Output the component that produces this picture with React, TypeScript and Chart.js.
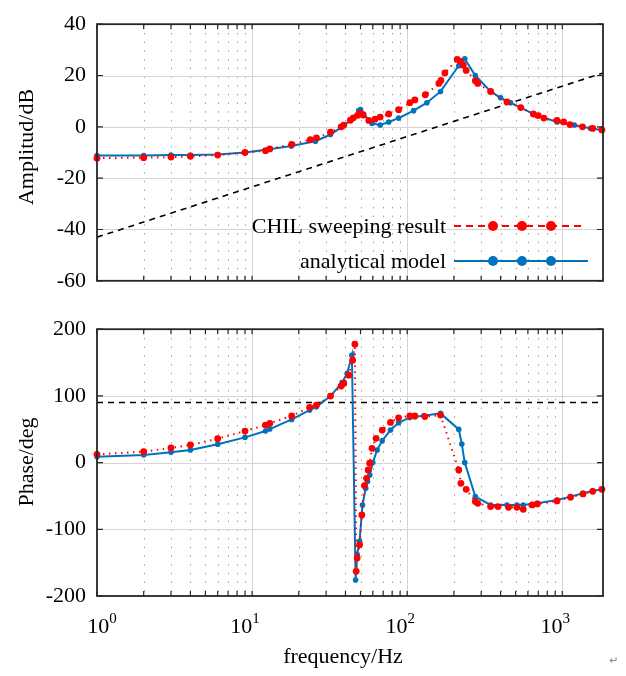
"use client"

import { useEffect, useRef } from "react"
import { Chart, registerables, type ChartConfiguration, type Plugin } from "chart.js"

Chart.register(...registerables)

const SERIF = "'Liberation Serif', 'Times New Roman', serif"
const RED = "#ff0000"
const BLUE = "#0072bd"

const freqMin = 1
const freqMax = 1830

// amplitude: CHIL sweeping result
const ampChilFreq = [1, 2, 3, 4, 6, 9, 12.2, 13, 18, 23.7, 26, 32, 37.5, 39, 43, 45, 48, 50, 52, 56.5, 62, 67, 76, 88, 104, 112, 131, 160, 165, 175, 210, 220, 230, 240, 275, 285, 345, 440, 540, 650, 700, 760, 925, 1020, 1120, 1350, 1570, 1800]
const ampChil = [-12.2, -12, -11.8, -11.5, -11, -10, -9.3, -8.6, -6.8, -5, -4.3, -2.1, 0, 0.7, 2.6, 3.5, 4.5, 5.3, 4.6, 2.5, 3, 3.8, 5, 6.7, 9.4, 10.5, 12.5, 16.9, 18.1, 21, 26.3, 25.5, 24, 22, 18, 16.9, 13.8, 9.7, 7.5, 5, 4.4, 3.4, 2.5, 1.9, 0.9, 0, -0.6, -1.2]

// amplitude: analytical model
const ampModelFreq = [1, 2, 3, 4, 6, 9, 12.9, 17.9, 25.6, 32, 38, 43, 48.7, 50, 52.3, 59.3, 67, 76, 88, 110, 134, 164, 215, 235, 275, 345, 400, 464, 538, 686, 925, 1195, 1520, 1800]
const ampModel = [-11.2, -11.2, -11, -11, -10.8, -10, -8.7, -7.5, -5.6, -3, 0, 2.5, 6.3, 6.7, 5, 1.3, 0.7, 1.9, 3.4, 6.3, 9.4, 13.8, 23.8, 26.5, 20, 13.8, 11.3, 9.4, 7.5, 4.4, 1.9, 0.7, -0.6, -1.2]

// amplitude: dashed reference line
const ampRefFreq = [1, 1830]
const ampRef = [-43, 21]

// phase: CHIL sweeping result
const phaseChilFreq = [1, 2, 3, 4, 6, 9, 12.2, 13, 18, 23.5, 26, 32, 37.5, 39, 42, 44.5, 46, 46.9, 47.6, 49.3, 51, 53, 54.7, 56, 57.3, 59.3, 63, 69, 78, 88, 104, 112, 130, 164, 215, 222, 240, 275, 285, 345, 385, 450, 510, 560, 640, 690, 925, 1130, 1360, 1570, 1800]
const phaseChil = [12.4, 16.4, 22, 26.4, 35.8, 47.3, 56.3, 58.8, 70, 82.8, 86.2, 99.7, 114.7, 118.7, 131, 153.6, 177.5, -163, -143, -123, -78.5, -34.5, -23.6, -11, -1, 21.4, 36.4, 48.8, 60.3, 67.2, 70, 70, 69, 71.3, -11, -31, -40, -58.5, -61, -66, -66, -67, -67, -70, -63.5, -62, -57.5, -52, -47, -43, -40]

// phase: analytical model
const phaseModelFreq = [1, 2, 3, 4, 6, 9, 12.2, 13, 18, 23.5, 26, 32, 38, 41, 44, 46.5, 47.6, 49.3, 51.5, 54, 55.5, 57.4, 60, 64, 69, 78, 88, 104, 112, 128, 164, 215, 225, 235, 275, 345, 440, 510, 560, 690, 925, 1130, 1360, 1570, 1800]
const phaseModel = [8.8, 11.4, 15.4, 19, 27.4, 37.8, 47.3, 50.3, 64.8, 78.7, 83.7, 99.7, 120, 133.7, 161, -176, -138, -118, -63.5, -38.5, -28.5, -18.6, 0, 19, 32.8, 48.8, 59.7, 67.8, 68.8, 70.2, 73.8, 49.8, 27.8, 0, -51, -63.5, -63.5, -63.5, -63.5, -61, -56, -51, -46, -42.5, -40]

// phase: dashed reference line
const phaseRefFreq = [1, 1830]
const phaseRef = [90, 90]

const legendLabels = ["CHIL sweeping result", "analytical model"]
const decadeExponents = ["0", "1", "2", "3"]

const toPoints = (xs: number[], ys: number[]) => xs.map((x, i) => ({ x, y: ys[i] }))

function logGridValues(min: number, max: number) {
  const out: { v: number; major: boolean }[] = []
  for (let d = Math.floor(Math.log10(min)); Math.pow(10, d) <= max; d++) {
    for (let m = 1; m <= 9; m++) {
      const v = m * Math.pow(10, d)
      if (v >= min && v < max) out.push({ v, major: m === 1 })
    }
  }
  return out
}

// MATLAB-like grid, inward ticks and box
const framePlugin: Plugin<"line"> = {
  id: "frame",
  beforeDatasetsDraw(chart) {
    const { ctx, chartArea: a } = chart
    const xs = chart.scales.x
    const ys = chart.scales.y
    ctx.save()
    ctx.lineWidth = 1
    for (const g of logGridValues(freqMin, freqMax)) {
      if (g.v === freqMin) continue
      const px = Math.round(xs.getPixelForValue(g.v)) + 0.5
      ctx.strokeStyle = g.major ? "#d4d4d4" : "#a0a0a0"
      ctx.setLineDash(g.major ? [] : [1.5, 7.2])
      ctx.beginPath()
      ctx.moveTo(px, a.top)
      ctx.lineTo(px, a.bottom)
      ctx.stroke()
    }
    ctx.setLineDash([])
    ctx.strokeStyle = "#d4d4d4"
    for (const t of ys.ticks) {
      const py = Math.round(ys.getPixelForValue(t.value)) + 0.5
      if (py < a.top + 2 || py > a.bottom - 2) continue
      ctx.beginPath()
      ctx.moveTo(a.left, py)
      ctx.lineTo(a.right, py)
      ctx.stroke()
    }
    ctx.restore()
  },
  afterDatasetsDraw(chart) {
    const { ctx, chartArea: a } = chart
    const xs = chart.scales.x
    const ys = chart.scales.y
    ctx.save()
    ctx.strokeStyle = "#262626"
    ctx.lineWidth = 1.2
    for (const g of logGridValues(freqMin, freqMax)) {
      const px = xs.getPixelForValue(g.v)
      ctx.beginPath()
      ctx.moveTo(px, a.bottom)
      ctx.lineTo(px, a.bottom - 5)
      ctx.moveTo(px, a.top)
      ctx.lineTo(px, a.top + 5)
      ctx.stroke()
    }
    for (const t of ys.ticks) {
      const py = ys.getPixelForValue(t.value)
      ctx.beginPath()
      ctx.moveTo(a.left, py)
      ctx.lineTo(a.left + 6, py)
      ctx.moveTo(a.right, py)
      ctx.lineTo(a.right - 6, py)
      ctx.stroke()
    }
    ctx.lineWidth = 1.8
    ctx.strokeRect(a.left, a.top, a.right - a.left, a.bottom - a.top)
    ctx.restore()
  },
}

const legendPlugin: Plugin<"line"> = {
  id: "bodeLegend",
  afterDraw(chart) {
    const { ctx } = chart
    const rows = [
      { label: legendLabels[0], color: RED, dash: [7, 5], y: 226, end: 583 },
      { label: legendLabels[1], color: BLUE, dash: [], y: 261, end: 588 },
    ]
    ctx.save()
    ctx.font = `22px ${SERIF}`
    ctx.textAlign = "right"
    ctx.textBaseline = "middle"
    for (const r of rows) {
      ctx.fillStyle = "#000"
      ctx.fillText(r.label, 446, r.y + 1)
      ctx.strokeStyle = r.color
      ctx.lineWidth = 2
      ctx.setLineDash(r.dash)
      ctx.beginPath()
      ctx.moveTo(454, r.y)
      ctx.lineTo(r.end, r.y)
      ctx.stroke()
      ctx.setLineDash([])
      ctx.fillStyle = r.color
      for (const mx of [493, 522, 551]) {
        ctx.beginPath()
        ctx.arc(mx, r.y, 5, 0, Math.PI * 2)
        ctx.fill()
      }
    }
    ctx.restore()
  },
}

const freqLabelPlugin: Plugin<"line"> = {
  id: "freqLabels",
  afterDraw(chart) {
    const { ctx, chartArea: a } = chart
    const xs = chart.scales.x
    ctx.save()
    ctx.fillStyle = "#000"
    ctx.textBaseline = "alphabetic"
    decadeExponents.forEach((e, i) => {
      const px = xs.getPixelForValue(Math.pow(10, i))
      ctx.font = `22px ${SERIF}`
      const wb = ctx.measureText("10").width
      ctx.font = `15px ${SERIF}`
      const we = ctx.measureText(e).width
      const cx = i === 0 ? px + 5 : px - 7
      const x0 = cx - (wb + we) / 2
      ctx.font = `22px ${SERIF}`
      ctx.textAlign = "left"
      ctx.fillText("10", x0, a.bottom + 37)
      ctx.font = `15px ${SERIF}`
      ctx.fillText(e, x0 + wb, a.bottom + 27)
    })
    ctx.font = `22px ${SERIF}`
    ctx.textAlign = "center"
    ctx.fillText("frequency/Hz", 343, a.bottom + 67)
    ctx.font = `11px 'DejaVu Sans'`
    ctx.fillStyle = "#888"
    ctx.fillText("↵", 614, a.bottom + 68)
    ctx.restore()
  },
}

interface BodePanelProps {
  top: number
  height: number
  padTop: number
  xAxisHeight: number
  yMin: number
  yMax: number
  yStep: number
  title: string
  titleY: number
  chil: { x: number; y: number }[]
  model: { x: number; y: number }[]
  ref: { x: number; y: number }[]
  extra: Plugin<"line">
}

function BodePanel(p: BodePanelProps) {
  const canvasRef = useRef<HTMLCanvasElement>(null)

  useEffect(() => {
    if (!canvasRef.current) return
    const titlePlugin: Plugin<"line"> = {
      id: "yTitle",
      afterDraw(chart) {
        const { ctx } = chart
        ctx.save()
        ctx.translate(27, p.titleY)
        ctx.rotate(-Math.PI / 2)
        ctx.font = `22px ${SERIF}`
        ctx.fillStyle = "#000"
        ctx.textAlign = "center"
        ctx.textBaseline = "middle"
        ctx.fillText(p.title, 0, 0)
        ctx.restore()
      },
    }

    const config: ChartConfiguration<"line"> = {
      type: "line",
      data: {
        datasets: [
          {
            label: legendLabels[0],
            data: p.chil,
            borderColor: RED,
            backgroundColor: RED,
            borderWidth: 2,
            borderDash: [1.5, 4.5],
            pointRadius: 3.4,
            pointBorderWidth: 0,
            pointBackgroundColor: RED,
            order: 0,
            clip: 8,
          },
          {
            label: legendLabels[1],
            data: p.model,
            borderColor: BLUE,
            backgroundColor: BLUE,
            borderWidth: 2,
            pointRadius: 2.8,
            pointBorderWidth: 0,
            pointBackgroundColor: BLUE,
            order: 1,
            clip: 8,
          },
          {
            label: "ref",
            data: p.ref,
            borderColor: "#000",
            borderWidth: 1.6,
            borderDash: [6, 5],
            pointRadius: 0,
            order: 2,
          },
        ],
      },
      options: {
        animation: false,
        responsive: true,
        maintainAspectRatio: false,
        parsing: false,
        layout: { padding: { top: p.padTop, right: 23, left: 0, bottom: 0 } },
        plugins: { legend: { display: false }, tooltip: { enabled: false } },
        scales: {
          x: {
            type: "logarithmic",
            min: freqMin,
            max: freqMax,
            grid: { display: false },
            border: { display: false },
            ticks: { display: false },
            afterFit: (s) => {
              s.height = p.xAxisHeight
            },
          },
          y: {
            min: p.yMin,
            max: p.yMax,
            grid: { display: false, drawTicks: false },
            border: { display: false },
            ticks: {
              stepSize: p.yStep,
              color: "#000",
              padding: 11,
              font: { family: SERIF, size: 22 },
            },
            afterFit: (s) => {
              s.width = 97
            },
          },
        },
      },
      plugins: [framePlugin, titlePlugin, p.extra],
    }

    const chart = new Chart(canvasRef.current, config)
    return () => chart.destroy()
  }, [p])

  return (
    <div style={{ position: "absolute", left: 0, top: p.top, width: 626, height: p.height }}>
      <canvas ref={canvasRef} />
    </div>
  )
}

const ampPanel = {
  top: 0,
  height: 305,
  padTop: 18,
  xAxisHeight: 20,
  yMin: -60,
  yMax: 40,
  yStep: 20,
  title: "Amplitud/dB",
  titleY: 147,
  chil: toPoints(ampChilFreq, ampChil),
  model: toPoints(ampModelFreq, ampModel),
  ref: toPoints(ampRefFreq, ampRef),
  extra: legendPlugin,
}

const phasePanel = {
  top: 305,
  height: 371,
  padTop: 24,
  xAxisHeight: 80,
  yMin: -200,
  yMax: 200,
  yStep: 100,
  title: "Phase/deg",
  titleY: 157,
  chil: toPoints(phaseChilFreq, phaseChil),
  model: toPoints(phaseModelFreq, phaseModel),
  ref: toPoints(phaseRefFreq, phaseRef),
  extra: freqLabelPlugin,
}

export default function App() {
  return (
    <div style={{ position: "fixed", left: 0, top: 0, width: 626, height: 676, background: "#fff" }}>
      <BodePanel {...ampPanel} />
      <BodePanel {...phasePanel} />
    </div>
  )
}
